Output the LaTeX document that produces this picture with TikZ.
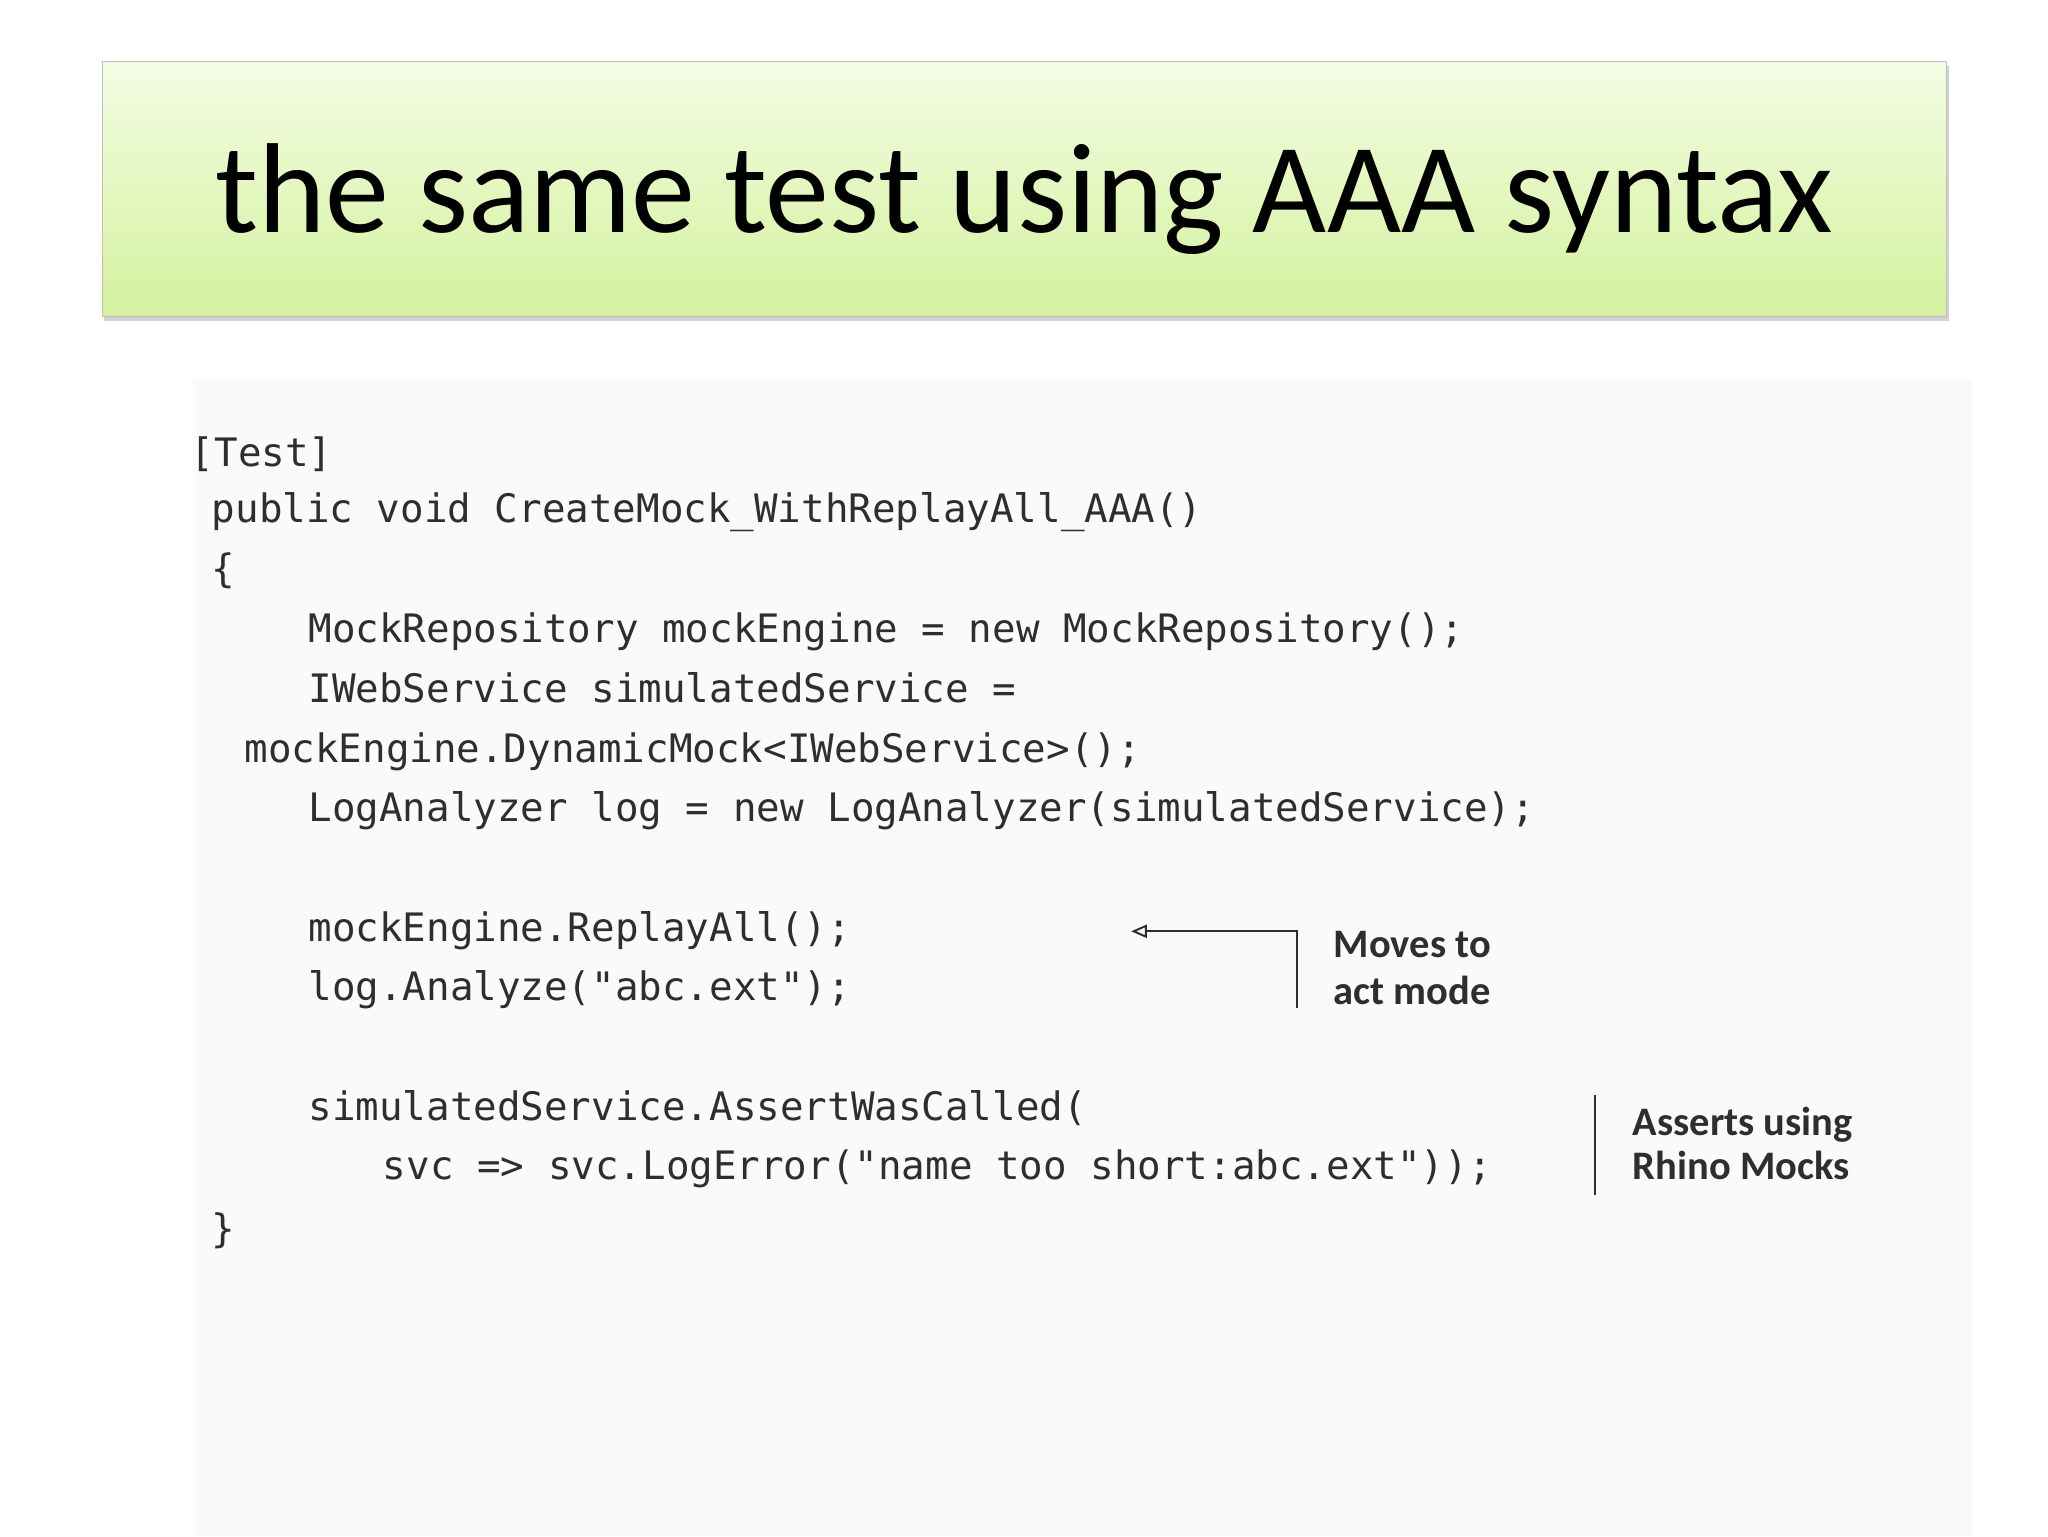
\documentclass[tikz,border=0pt]{standalone}
\usepackage{fontspec}
\setmainfont{Carlito}
\newfontfamily\codefont{DejaVu Sans Mono}
\usetikzlibrary{arrows.meta,shadows}
\definecolor{gtop}{HTML}{F3FCE3}
\definecolor{gbot}{HTML}{D4F29E}
\definecolor{codec}{HTML}{2E2E2E}
\tikzset{
  code/.style={anchor=base west,inner sep=0pt,font=\codefont\fontsize{30}{30}\selectfont,text=codec},
  note/.style={anchor=base west,inner sep=0pt,font=\bfseries\fontsize{31}{35}\selectfont,text=codec,align=left},
  rule/.style={line width=1.5pt,draw=codec}
}
\begin{document}
\begin{tikzpicture}[x=1pt,y=-1pt]
\useasboundingbox (0,0) rectangle (1568,1176);
\fill[white] (0,0) rectangle (1568,1176);
\fill[black!2] (148,290) rectangle (1510,1176);
\node[draw=black!25,line width=0.8pt,top color=gtop,bottom color=gbot,minimum width=1412pt,minimum height=195pt,anchor=north west,inner sep=0pt,drop shadow={shadow xshift=1.5pt,shadow yshift=-3pt,opacity=0.35}] (title) at (78,47) {};
\node[font=\fontsize{98}{100}\selectfont,anchor=base] (tt) at (784,178) {the same test using AAA syntax};
\node[code] (l1) at (146,357) {[Test]};
\node[code] (l2) at (162,400) {public void CreateMock\_WithReplayAll\_AAA()};
\node[code] (l3) at (162,446) {\{};
\node[code] (l4) at (236,492) {MockRepository mockEngine = new MockRepository();};
\node[code] (l5) at (236,538) {IWebService simulatedService =};
\node[code] (l6) at (187,584) {mockEngine.DynamicMock<IWebService>();};
\node[code] (l7) at (236,629) {LogAnalyzer log = new LogAnalyzer(simulatedService);};
\node[code] (l8) at (236,721) {mockEngine.ReplayAll();};
\node[code] (l9) at (236,766) {log.Analyze("abc.ext");};
\node[code] (l10) at (236,858) {simulatedService.AssertWasCalled(};
\node[code] (l11) at (293,903) {svc => svc.LogError("name too short:abc.ext"));};
\node[code] (l12) at (162,951) {\}};
\node[note] (n1) at (1021,733) {Moves to};
\node[note] (n1b) at (1021,769) {act mode};
\node[note] (n2) at (1250,869) {Asserts using};
\node[note] (n2b) at (1250,903) {Rhino Mocks};
\coordinate (a0) at (993,772);
\coordinate (a1) at (993,713);
\coordinate (a2) at (866,713);
\draw[rule,-{Triangle[open,length=12pt,width=10pt]}] (a0) -- (a1) -- (a2);
\coordinate (b0) at (1221,838);
\coordinate (b1) at (1221,915);
\draw[rule] (b0) -- (b1);
\end{tikzpicture}
\end{document}
